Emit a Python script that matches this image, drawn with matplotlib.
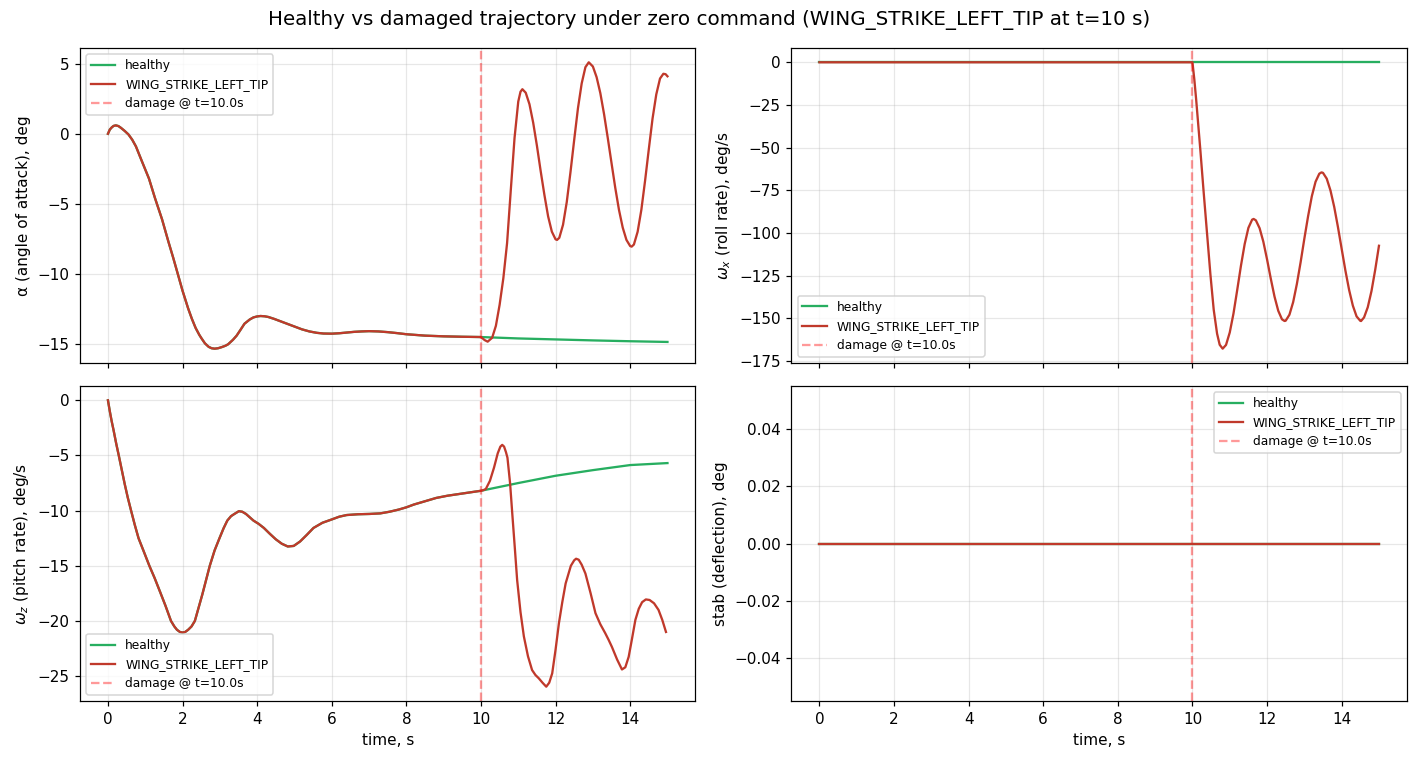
import matplotlib
matplotlib.use("Agg")
import matplotlib.pyplot as plt
from matplotlib.ticker import MultipleLocator

T_DAMAGE = 10.0
DAMAGE_NAME = "WING_STRIKE_LEFT_TIP"

# shared trajectory (0..10 s), identical for healthy and damaged
t_alpha_pre = [0.0, 0.05, 0.1, 0.15, 0.21, 0.28, 0.35, 0.45, 0.55, 0.65, 0.75, 0.91, 1.1, 1.26, 1.45,
               1.62, 1.75, 1.88, 2.0, 2.15, 2.25, 2.35, 2.45, 2.51, 2.6, 2.7, 2.78, 2.86, 2.95, 3.05,
               3.15, 3.22, 3.35, 3.45, 3.55, 3.66, 3.8, 3.9, 4.0, 4.09, 4.2, 4.3, 4.45, 4.6, 4.8, 5.0,
               5.2, 5.4, 5.6, 5.78, 6.0, 6.2, 6.4, 6.6, 6.8, 7.0, 7.25, 7.5, 7.75, 8.0, 8.5, 9.0, 9.5,
               10.0]
alpha_pre = [0.0, 0.3, 0.45, 0.56, 0.6, 0.55, 0.42, 0.2, -0.05, -0.42, -0.9, -1.96, -3.2, -4.58, -6.1,
             -7.69, -8.85, -10.07, -11.2, -12.46, -13.2, -13.85, -14.35, -14.6, -14.95, -15.2, -15.3,
             -15.33, -15.3, -15.22, -15.12, -15.02, -14.7, -14.4, -14.0, -13.55, -13.25, -13.1,
             -13.03, -13.0, -13.02, -13.07, -13.2, -13.35, -13.55, -13.75, -13.95, -14.1, -14.2,
             -14.25, -14.26, -14.23, -14.18, -14.13, -14.1, -14.08, -14.1, -14.15, -14.22, -14.3,
             -14.4, -14.45, -14.48, -14.5]

t_alpha_h = [10.0, 10.5, 11.0, 12.0, 13.0, 14.0, 15.0]
alpha_h = [-14.5, -14.55, -14.6, -14.67, -14.74, -14.8, -14.85]

t_alpha_d = [10.0, 10.1, 10.18, 10.3, 10.4, 10.5, 10.6, 10.7, 10.8, 10.9, 11.0, 11.06, 11.11, 11.2,
             11.3, 11.4, 11.5, 11.6, 11.7, 11.8, 11.9, 12.0, 12.04, 12.1, 12.2, 12.3, 12.4, 12.5,
             12.6, 12.7, 12.8, 12.89, 13.0, 13.1, 13.2, 13.3, 13.4, 13.5, 13.6, 13.7, 13.8, 13.9,
             14.0, 14.04, 14.1, 14.2, 14.3, 14.4, 14.5, 14.6, 14.7, 14.8, 14.89, 14.95, 15.0]
alpha_d = [-14.5, -14.72, -14.83, -14.55, -13.7, -12.2, -10.3, -7.8, -4.0, -0.3, 2.3, 3.0, 3.18,
           2.93, 2.11, 0.79, -0.85, -2.65, -4.35, -5.89, -6.98, -7.53, -7.57, -7.42, -6.49, -4.87,
           -2.73, -0.42, 1.82, 3.59, 4.75, 5.1, 4.8, 4.04, 2.9, 1.4, -0.31, -2.09, -3.85, -5.43,
           -6.69, -7.57, -8.01, -8.05, -7.9, -6.99, -5.42, -3.34, -1.09, 1.09, 2.81, 3.94, 4.28,
           4.25, 4.1]

t_wx_h = [0.0, 15.0]
wx_h = [0.0, 0.0]

t_wx_d = [0.0, 10.0, 10.05, 10.1, 10.21, 10.3, 10.39, 10.48, 10.57, 10.66, 10.73, 10.81, 10.9, 11.0,
          11.1, 11.2, 11.3, 11.4, 11.5, 11.6, 11.64, 11.7, 11.8, 11.9, 12.0, 12.1, 12.2, 12.3, 12.4,
          12.47, 12.5, 12.6, 12.7, 12.8, 12.9, 13.0, 13.1, 13.2, 13.3, 13.4, 13.46, 13.5, 13.6,
          13.7, 13.8, 13.9, 14.0, 14.1, 14.2, 14.3, 14.4, 14.5, 14.52, 14.6, 14.7, 14.8, 14.9, 15.0]
wx_d = [0.0, 0.0, -10.0, -22.0, -51.0, -76.0, -100.0, -124.0, -145.0, -159.0, -165.5, -167.8,
        -165.6, -158.3, -147.2, -133.4, -119.2, -106.5, -97.0, -92.2, -91.8, -92.6, -97.2, -105.1,
        -115.5, -126.8, -137.3, -145.6, -150.6, -151.6, -151.4, -147.9, -140.5, -129.8, -117.1,
        -103.3, -90.2, -78.5, -70.0, -65.3, -64.5, -64.8, -68.2, -75.1, -84.7, -96.5, -109.3,
        -122.0, -133.4, -142.6, -148.9, -151.5, -151.6, -149.5, -143.5, -134.0, -121.5, -107.5]

t_wz_pre = [0.0, 0.05, 0.1, 0.15, 0.22, 0.29, 0.37, 0.45, 0.53, 0.62, 0.72, 0.82, 0.96, 1.11, 1.25,
            1.39, 1.54, 1.69, 1.78, 1.85, 1.93, 2.0, 2.07, 2.15, 2.24, 2.33, 2.43, 2.53, 2.63, 2.73,
            2.86, 2.99, 3.1, 3.2, 3.3, 3.39, 3.51, 3.6, 3.7, 3.8, 3.9, 4.04, 4.18, 4.34, 4.5, 4.66,
            4.82, 4.98, 5.15, 5.33, 5.51, 5.75, 6.0, 6.2, 6.4, 6.7, 7.02, 7.3, 7.55, 7.8, 8.0, 8.2,
            8.4, 8.6, 8.8, 9.1, 9.4, 9.7, 10.0]
wz_pre = [0.0, -1.0, -1.9, -2.7, -3.9, -5.0, -6.3, -7.6, -8.8, -10.0, -11.3, -12.5, -13.7, -15.0,
          -16.1, -17.3, -18.6, -20.0, -20.5, -20.8, -21.0, -21.05, -21.0, -20.8, -20.5, -20.0,
          -18.8, -17.6, -16.3, -15.0, -13.6, -12.5, -11.6, -10.9, -10.5, -10.3, -10.05, -10.1,
          -10.3, -10.6, -10.9, -11.2, -11.57, -12.1, -12.6, -13.0, -13.25, -13.2, -12.8, -12.2,
          -11.57, -11.1, -10.8, -10.55, -10.4, -10.33, -10.3, -10.25, -10.1, -9.9, -9.7, -9.45,
          -9.25, -9.05, -8.85, -8.65, -8.5, -8.35, -8.2]

t_wz_h = [10.0, 11.0, 12.0, 13.0, 14.0, 15.0]
wz_h = [-8.2, -7.5, -6.84, -6.33, -5.87, -5.69]

t_wz_d = [10.0, 10.06, 10.13, 10.24, 10.35, 10.45, 10.52, 10.57, 10.62, 10.67, 10.71, 10.78, 10.84,
          10.91, 10.97, 11.06, 11.15, 11.26, 11.37, 11.46, 11.55, 11.65, 11.75, 11.83, 11.91,
          12.0, 12.09, 12.18, 12.27, 12.41, 12.5, 12.55, 12.62, 12.7, 12.8, 12.94, 13.07, 13.2,
          13.33, 13.42, 13.51, 13.65, 13.78, 13.87, 13.96, 14.05, 14.14, 14.23, 14.32, 14.42,
          14.52, 14.64, 14.76, 14.86, 14.96]
wz_d = [-8.2, -8.15, -8.04, -7.3, -6.1, -4.8, -4.2, -4.04, -4.2, -4.7, -5.2, -7.5, -10.3, -13.5,
        -16.3, -19.2, -21.4, -23.2, -24.45, -24.9, -25.2, -25.6, -25.96, -25.6, -24.75, -22.6,
        -20.2, -18.3, -16.6, -15.0, -14.5, -14.36, -14.45, -14.9, -15.7, -17.5, -19.3, -20.3,
        -21.1, -21.7, -22.35, -23.5, -24.4, -24.2, -23.25, -21.6, -19.9, -18.9, -18.3, -18.05,
        -18.1, -18.4, -19.0, -19.9, -21.0]

t_stab = [0.0, 15.0]
stab_h = [0.0, 0.0]
stab_d = [0.0, 0.0]

panels = [
    (t_alpha_pre + t_alpha_h[1:], alpha_pre + alpha_h[1:],
     t_alpha_pre + t_alpha_d[1:], alpha_pre + alpha_d[1:],
     "α (angle of attack), deg", "upper left"),
    (t_wx_h, wx_h, t_wx_d, wx_d, r"$\omega_x$ (roll rate), deg/s", "lower left"),
    (t_wz_pre + t_wz_h[1:], wz_pre + wz_h[1:],
     t_wz_pre + t_wz_d[1:], wz_pre + wz_d[1:],
     r"$\omega_z$ (pitch rate), deg/s", "lower left"),
    (t_stab, stab_h, t_stab, stab_d, "stab (deflection), deg", "upper right"),
]

fig, axes = plt.subplots(2, 2, figsize=(1418 / 110, 759 / 110), dpi=110, sharex=True)

for ax, (th, yh, td, yd, ylabel, loc) in zip(axes.flat, panels):
    ax.plot(th, yh, color="#27ae60", lw=1.5, label="healthy")
    ax.plot(td, yd, color="#c0392b", lw=1.5, label=DAMAGE_NAME)
    ax.axvline(T_DAMAGE, color="red", ls="--", alpha=0.4, label=f"damage @ t={T_DAMAGE:.1f}s")
    ax.set_ylabel(ylabel)
    ax.grid(alpha=0.3)
    ax.legend(loc=loc, fontsize=8)

axes[0, 0].yaxis.set_major_locator(MultipleLocator(5))
axes[1, 0].set_xlabel("time, s")
axes[1, 1].set_xlabel("time, s")

fig.suptitle(f"Healthy vs damaged trajectory under zero command ({DAMAGE_NAME} at t=10 s)",
             fontsize=13, y=0.987)
fig.subplots_adjust(left=0.0564, right=0.9922, top=0.9368, bottom=0.0764, wspace=0.156, hspace=0.073)
fig.savefig("out.png")
